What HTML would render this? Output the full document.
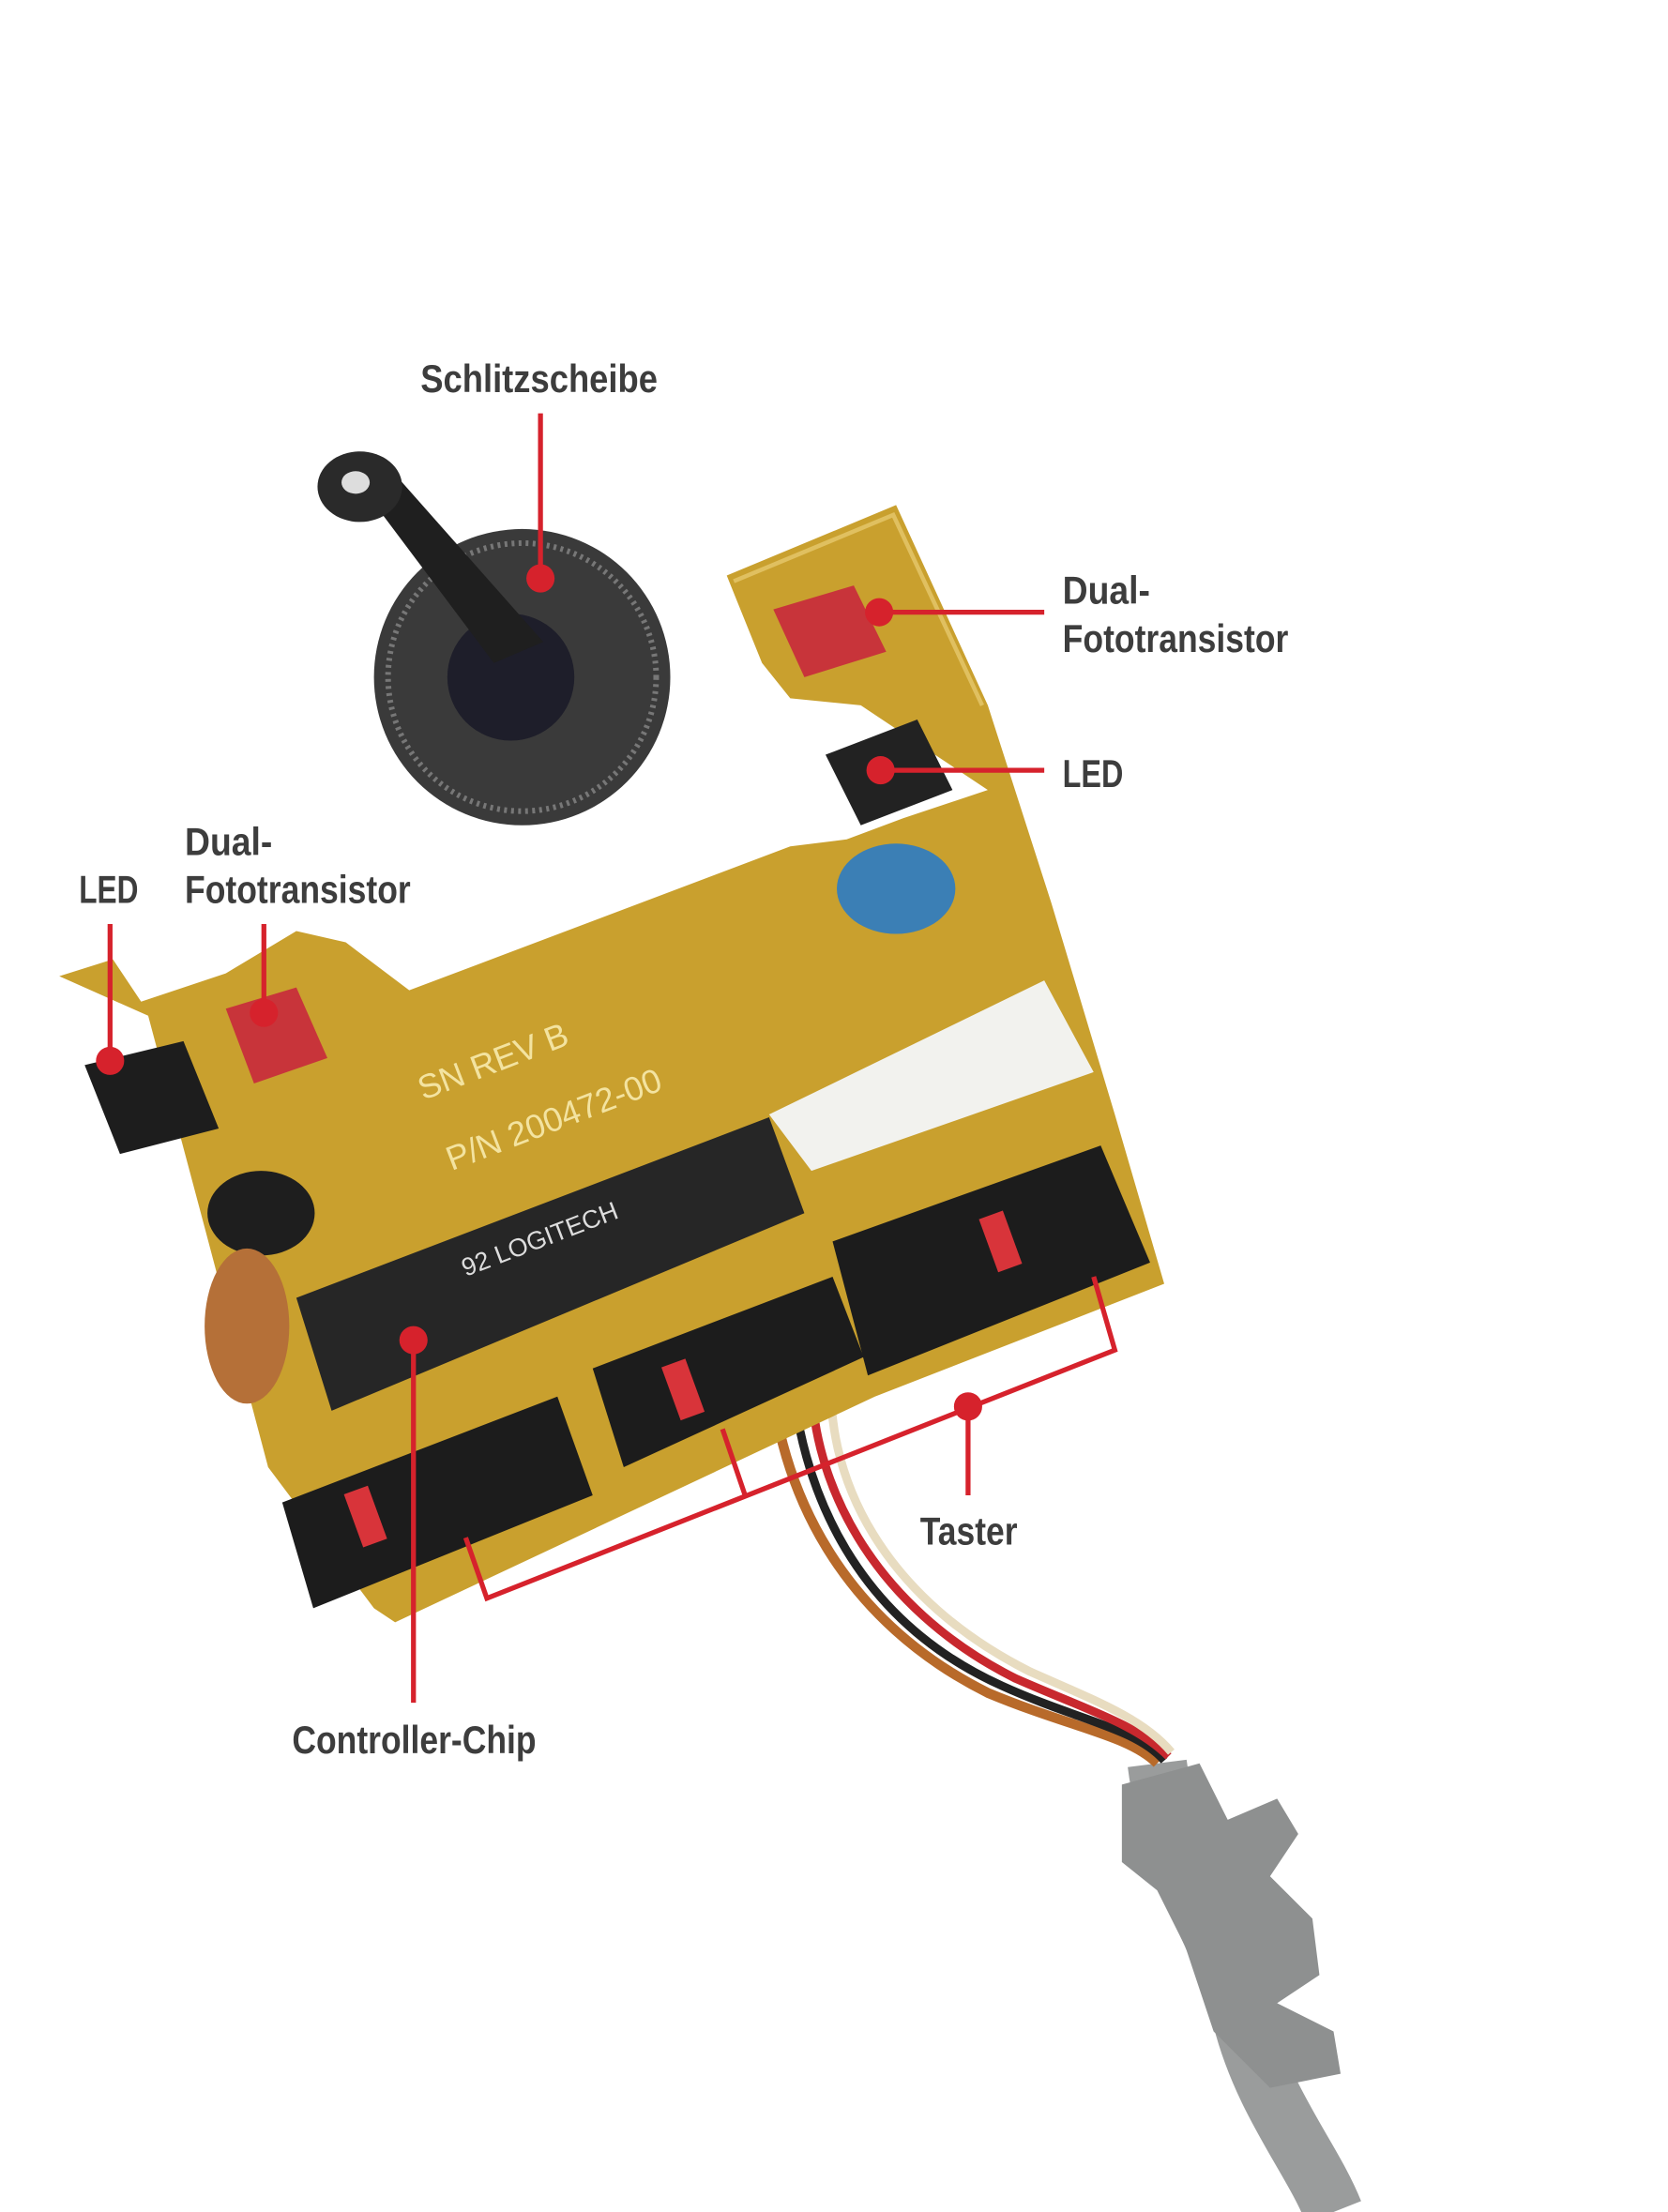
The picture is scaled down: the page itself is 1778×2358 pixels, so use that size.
<!DOCTYPE html>
<html><head><meta charset="utf-8"><style>
html,body{margin:0;padding:0;background:#fff;}
svg{display:block;}
text.l{font-family:"Liberation Sans Narrow","Liberation Sans",sans-serif;font-weight:bold;fill:#3d3d3d;font-size:28px;}
</style></head><body>
<svg width="1778" height="2358" viewBox="0 0 1182 1568" preserveAspectRatio="none" xmlns="http://www.w3.org/2000/svg">
<rect width="1182" height="1568" fill="#ffffff"/>
<!-- cable -->
<path d="M820,1250 C830,1330 870,1380 880,1430 C895,1490 930,1530 945,1568" stroke="#9a9c9c" stroke-width="42" fill="none"/>
<path d="M795,1265 L850,1250 L870,1290 L905,1275 L920,1300 L900,1330 L930,1360 L935,1400 L905,1420 L945,1440 L950,1470 L900,1480 L860,1440 L840,1380 L820,1340 L795,1320 Z" fill="#8e9090"/>
<!-- wires -->
<path d="M590,780 C560,850 540,900 545,960 C550,1060 600,1150 700,1200 C760,1225 800,1230 820,1250" stroke="#b86a2a" stroke-width="7" fill="none"/>
<path d="M610,770 C580,840 555,900 560,960 C565,1060 610,1150 710,1195 C765,1220 805,1225 825,1248" stroke="#222" stroke-width="6" fill="none"/>
<path d="M655,760 C620,830 580,900 575,960 C570,1050 620,1140 720,1190 C770,1212 805,1222 828,1245" stroke="#c8282e" stroke-width="6" fill="none"/>
<path d="M705,740 C660,820 600,900 590,960 C580,1050 630,1135 730,1185 C775,1205 810,1218 830,1242" stroke="#e8dcc0" stroke-width="6" fill="none"/>
<!-- disc -->
<circle cx="370" cy="480" r="105" fill="#3a3a3a"/>
<circle cx="370" cy="480" r="95" fill="none" stroke="#777" stroke-width="4" stroke-dasharray="2 3"/>
<circle cx="362" cy="480" r="45" fill="#1e1e2a"/>
<path d="M245,330 L270,325 L385,455 L350,470 Z" fill="#1f1f1f"/>
<ellipse cx="255" cy="345" rx="30" ry="25" fill="#2a2a2a"/>
<ellipse cx="252" cy="342" rx="10" ry="8" fill="#ddd"/>
<!-- PCB -->
<path d="M515,408 L635,358 L700,500 L745,640 L790,790 L825,910 L620,990 L280,1150 L265,1140 L190,1040 L145,870 L105,720 L42,692 L80,680 L100,710 L160,690 L210,660 L245,668 L290,702 L560,600 L600,595 L640,580 L700,560 L610,500 L560,495 L540,470 Z" fill="#c9a02e"/>
<path d="M520,412 L633,365 L696,500" stroke="#e0c060" stroke-width="3" fill="none"/>
<!-- right upper components -->
<path d="M548,432 L605,415 L628,462 L570,480 Z" fill="#c8343a"/>
<path d="M585,535 L650,510 L675,560 L610,585 Z" fill="#222"/>
<ellipse cx="635" cy="630" rx="42" ry="32" fill="#3b7fb5"/>
<!-- left components -->
<path d="M60,755 L130,738 L155,800 L85,818 Z" fill="#1d1d1d"/>
<path d="M160,715 L210,700 L232,750 L180,768 Z" fill="#c8343a"/>
<ellipse cx="185" cy="860" rx="38" ry="30" fill="#1e1e1e"/>
<ellipse cx="175" cy="940" rx="30" ry="55" fill="#b57038"/>
<!-- connector -->
<path d="M545,790 L740,695 L775,760 L575,830 Z" fill="#f2f2ee"/>
<!-- chip -->
<path d="M210,920 L545,792 L570,860 L235,1000 Z" fill="#262626"/>
<text x="330" y="905" transform="rotate(-21 330 905)" style="font-family:'Liberation Sans',sans-serif;font-size:18px;fill:#ddd">92 LOGITECH</text>
<!-- switches -->
<path d="M200,1065 L395,990 L420,1060 L222,1140 Z" fill="#1c1c1c"/>
<rect x="250" y="1055" width="18" height="40" fill="#d8343a" transform="rotate(-20 259 1075)"/>
<path d="M420,970 L590,905 L612,962 L442,1040 Z" fill="#1c1c1c"/>
<rect x="475" y="965" width="18" height="40" fill="#d8343a" transform="rotate(-20 484 985)"/>
<path d="M590,880 L780,812 L815,895 L615,975 Z" fill="#1c1c1c"/>
<rect x="700" y="860" width="18" height="40" fill="#d8343a" transform="rotate(-20 709 880)"/>
<text x="300" y="780" transform="rotate(-21 300 780)" style="font-family:'Liberation Sans',sans-serif;font-size:24px;fill:#f3e3a0">SN REV B</text>
<text x="320" y="830" transform="rotate(-21 320 830)" style="font-family:'Liberation Sans',sans-serif;font-size:24px;fill:#f3e3a0">P/N 200472-00</text>
<!-- callouts -->
<g stroke="#d6222c" stroke-width="3.5" fill="none">
<line x1="383" y1="293" x2="383" y2="410"/>
<line x1="623" y1="434" x2="740" y2="434"/>
<line x1="624" y1="546" x2="740" y2="546"/>
<line x1="78" y1="655" x2="78" y2="752"/>
<line x1="187" y1="655" x2="187" y2="718"/>
<line x1="293" y1="950" x2="293" y2="1207"/>
<line x1="686" y1="997" x2="686" y2="1060"/>
<polyline points="330,1090 345,1133 790,957 775,905"/>
<line x1="512" y1="1013" x2="528" y2="1060"/>
</g>
<g fill="#d6222c">
<circle cx="383" cy="410" r="10"/><circle cx="623" cy="434" r="10"/><circle cx="624" cy="546" r="10"/>
<circle cx="78" cy="752" r="10"/><circle cx="187" cy="718" r="10"/><circle cx="293" cy="950" r="10"/><circle cx="686" cy="997" r="10"/>
</g>
<text class="l" x="298" y="278" textLength="168" lengthAdjust="spacingAndGlyphs">Schlitzscheibe</text>
<text class="l" x="753" y="428" textLength="62" lengthAdjust="spacingAndGlyphs">Dual-</text>
<text class="l" x="753" y="462" textLength="160" lengthAdjust="spacingAndGlyphs">Fototransistor</text>
<text class="l" x="753" y="558" textLength="43" lengthAdjust="spacingAndGlyphs">LED</text>
<text class="l" x="56" y="640" textLength="42" lengthAdjust="spacingAndGlyphs">LED</text>
<text class="l" x="131" y="606" textLength="62" lengthAdjust="spacingAndGlyphs">Dual-</text>
<text class="l" x="131" y="640" textLength="160" lengthAdjust="spacingAndGlyphs">Fototransistor</text>
<text class="l" x="207" y="1243" textLength="173" lengthAdjust="spacingAndGlyphs">Controller-Chip</text>
<text class="l" x="652" y="1095" textLength="69" lengthAdjust="spacingAndGlyphs">Taster</text>
</svg>
</body></html>
